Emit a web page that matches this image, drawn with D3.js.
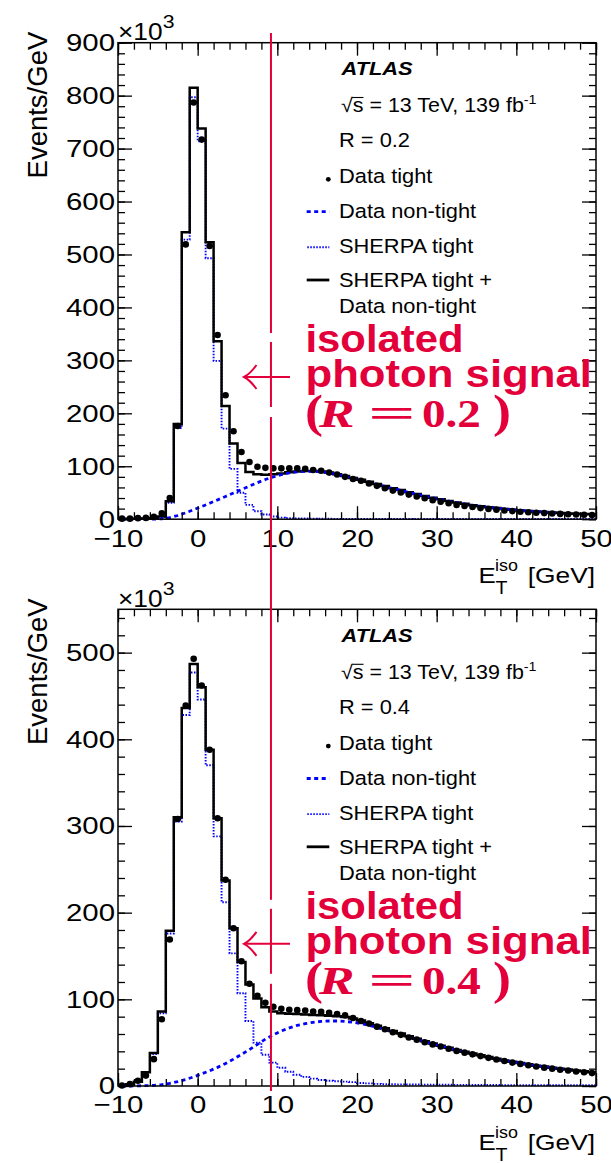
<!DOCTYPE html>
<html><head><meta charset="utf-8">
<script src="https://cdn.jsdelivr.net/npm/d3@7"></script>
<style>body{margin:0;background:#fff}svg{display:block}</style>
</head><body>
<svg id="c" width="611" height="1163"></svg>
<script>
// ---- data (values in units of 10^3 events/GeV) ----
const binCenters = [-9.5,-8.5,-7.5,-6.5,-5.5,-4.5,-3.5,-2.5,-1.5,-0.5,0.5,1.5,2.5,3.5,4.5,5.5,6.5,7.5,8.5,9.5,10.5,11.5,12.5,13.5,14.5,15.5,16.5,17.5,18.5,19.5,20.5,21.5,22.5,23.5,24.5,25.5,26.5,27.5,28.5,29.5,30.5,31.5,32.5,33.5,34.5,35.5,36.5,37.5,38.5,39.5,40.5,41.5,42.5,43.5,44.5,45.5,46.5,47.5,48.5,49.5];

const dataTightR02 = [1,1,2,2.5,4.5,11,40,176,519,787, 717,516,348,234,166,127,108,99,97,96, 96,96,96,95,93,91.5,88,84.5,80,76, 72.5,67.5,63,58.5,54,50.5,46.5,43,39.5,36, 33,30,27,25,23,21,19.5,18,16.5,15.3, 14,13,12.2,11.5,10.8,10,9.3,8.8,8.4,8];
const totalR02 = [0.5,0.8,1,1.5,2.5,5,34,180,542,815, 738,523,336,214,143,106,89,85,84,85, 86.5,88.5,90,91,91,90,88,85,81.5,78, 74.5,70.5,66.5,62.5,58.5,55,51,47.5,44,40.5, 37.5,34.5,31.5,29,26.5,24.5,22.5,21,19.5,18, 16.5,15.5,14.5,13.5,12.5,11.7,11,10.3,9.7,9.2];
const nonTightR02 = [0,0,0,0,0.2,0.8,3,7,12,18, 24,30,36.5,43,49.5,56,62.5,69,75,80, 84,87.5,89.5,90.5,90.5,89.5,87.5,84.5,81,77.5, 74,70,66,62,58,54.5,50.7,47.2,43.7,40.3, 37.2,34.2,31.3,28.8,26.3,24.3,22.3,20.8,19.3,17.8, 16.4,15.4,14.4,13.4,12.4,11.6,10.9,10.2,9.6,9.1];
const sherpaR02 = [0.3,0.5,0.8,1.2,2,4,31,172,528,797, 714,493,299,171,95,50,27,15,9,5, 3,2,1.5,1.2,1,0.9,0.8,0.7,0.6,0.5, 0.5,0.5,0.45,0.45,0.4,0.4,0.4,0.35,0.35,0.35, 0.3,0.3,0.3,0.3,0.3,0.3,0.3,0.3,0.3,0.3, 0.25,0.25,0.25,0.25,0.25,0.25,0.25,0.25,0.25,0.25];

const dataTightR04 = [0.5,2.3,6,12,31,77,169,308,439,493, 462,388,309,238,182,144,118,104,96,91.5, 89,88,87.5,87,86,85.5,84.5,83,81.5,78.5, 75,72,68.5,65.5,62,59,56,53.5,50.5,48, 45.5,43,40.5,38.5,36.5,34.5,32.5,30.5,28.8,27, 25.5,24,22.5,21.2,20,18.8,17.8,16.8,15.8,14.9];
const totalR04 = [0.5,2,5,16,38,86,179,310,436,487, 460,388,309,237,182,143,117,101,91,86, 84,83.5,83,82.5,82,81.5,81,80.5,79.5,78, 75.5,72.5,69.5,66.5,63.5,60.5,57.5,54.5,51.5,49, 46.5,44,41.5,39.5,37.5,35.5,33.5,31.5,29.5,28, 26.5,25,23.5,22.5,21,20,19,18,17,16];
const nonTightR04 = [0,0,0.2,0.4,0.8,1.5,3,5,7.5,10.5, 14,17.5,21.5,26,31,36.5,42,48,54,59, 63.5,67,70,72,73.5,74.5,75,75,74.5,73.5, 72,70,67.5,65,62.5,59.8,56.9,54,51.1,48.6, 46.1,43.6,41.2,39.2,37.2,35.2,33.2,31.2,29.3,27.8, 26.3,24.8,23.3,22.3,20.8,19.8,18.8,17.8,16.8,15.8];
const sherpaR04 = [0.5,2,5,16,37,84,176,305,428,477, 446,370,288,212,153,107,75,50,36,27, 21,16.5,13,10.5,8.5,7,6,5.5,5,4.5, 3.5,3,2.5,2.2,2,1.9,1.8,1.7,1.6,1.5, 1.4,1.4,1.3,1.3,1.2,1.2,1.1,1.1,1,1, 1,1,0.9,0.9,0.9,0.8,0.8,0.8,0.8,0.8];

const xDomain = [-10, 50];
const xMajorTicks = [-10, 0, 10, 20, 30, 40, 50];
const yMajorTicksR02 = [0,100,200,300,400,500,600,700,800,900];
const yMajorTicksR04 = [0,100,200,300,400,500];
const legendLabels = ["Data tight", "Data non-tight", "SHERPA tight", "SHERPA tight +", "Data non-tight"];
const coneLabels = ["0.2", "0.4"];
const markLine = 9.2; // GeV, vertical annotation line

// ---- drawing ----
const FONT = "'Liberation Sans', Arial, Helvetica, sans-serif";
const SERIF = "'Liberation Serif', 'Times New Roman', serif";
const RED = "#e3003a";
const BLUE = "#0000ff";
const svg = d3.select("#c");
svg.append("rect").attr("width", 611).attr("height", 1163).attr("fill", "#fff");

const X0 = 118, X1 = 596;
const x = d3.scaleLinear().domain(xDomain).range([X0, X1]);

function tg(parent, px, py, sx) {
  return parent.append("g").attr("transform", `translate(${px},${py}) scale(${sx},1)`);
}
function txt(parent, px, py, s, o = {}) {
  const g = tg(parent, px, py, o.sx || 1.15);
  return g.append("text").attr("font-family", o.family || FONT)
    .attr("font-size", o.size || 19.5)
    .attr("font-weight", o.weight || "normal")
    .attr("font-style", o.style || "normal")
    .attr("text-anchor", o.anchor || "start")
    .attr("fill", o.fill || "#000").text(s);
}

const panels = [
  {top: 42.7, bottom: 519.2, ymax: 900, yMajor: yMajorTicksR02, dy: 0, R: coneLabels[0],
   dataTight: dataTightR02, total: totalR02, nonTight: nonTightR02, sherpa: sherpaR02},
  {top: 609.3, bottom: 1086, ymax: 550, yMajor: yMajorTicksR04, dy: 566.8, R: coneLabels[1],
   dataTight: dataTightR04, total: totalR04, nonTight: nonTightR04, sherpa: sherpaR04}
];

function histVertices(vals) {
  const pts = [];
  binCenters.forEach((c, i) => { pts.push([c - 0.5, vals[i]]); pts.push([c + 0.5, vals[i]]); });
  return pts;
}

panels.forEach(p => {
  const y = d3.scaleLinear().domain([0, p.ymax]).range([p.bottom, p.top]);
  const g = svg.append("g");
  const step = d3.line().x(d => x(d[0])).y(d => y(d[1]));
  const smooth = d3.line().x((d, i) => x(binCenters[i])).y(d => y(d));

  // SHERPA tight (dotted histogram)
  g.append("path").attr("d", step(histVertices(p.sherpa))).attr("fill", "none")
    .attr("stroke", BLUE).attr("stroke-width", 1.9).attr("stroke-dasharray", "1.5,1.5");
  // SHERPA tight + Data non-tight (solid black histogram)
  g.append("path").attr("d", step(histVertices(p.total))).attr("fill", "none")
    .attr("stroke", "#000").attr("stroke-width", 2.5);
  // Data non-tight (dashed)
  g.append("path").attr("d", smooth(p.nonTight)).attr("fill", "none")
    .attr("stroke", BLUE).attr("stroke-width", 2.8).attr("stroke-dasharray", "4,3.5");
  // Data tight points
  g.selectAll("circle.pt").data(p.dataTight).join("circle").attr("class", "pt")
    .attr("cx", (d, i) => x(binCenters[i])).attr("cy", d => y(d)).attr("r", 3.3).attr("fill", "#000");

  // axes (ticks inside, ROOT style)
  const xMinor = d3.range(-10, 50.01, 2);
  const yMinor = d3.range(0, p.ymax + 0.01, 20);
  const ax = (axis, tr) => g.append("g").attr("transform", tr).call(axis)
    .call(s => s.select(".domain").remove());
  ax(d3.axisBottom(x).tickValues(xMinor).tickSizeInner(-7).tickSizeOuter(0).tickFormat(""), `translate(0,${p.bottom})`);
  const xb = ax(d3.axisBottom(x).tickValues(xMajorTicks).tickSizeInner(-13).tickSizeOuter(0).tickPadding(10)
      .tickFormat(d => d < 0 ? "\u2212" + Math.abs(d) : d), `translate(0,${p.bottom})`);
  ax(d3.axisTop(x).tickValues(xMinor).tickSizeInner(-7).tickSizeOuter(0).tickFormat(""), `translate(0,${p.top})`);
  ax(d3.axisTop(x).tickValues(xMajorTicks).tickSizeInner(-13).tickSizeOuter(0).tickFormat(""), `translate(0,${p.top})`);
  ax(d3.axisLeft(y).tickValues(yMinor).tickSizeInner(-7).tickSizeOuter(0).tickFormat(""), `translate(${X0},0)`);
  const yl = ax(d3.axisLeft(y).tickValues(p.yMajor).tickSizeInner(-14).tickSizeOuter(0).tickPadding(2.5), `translate(${X0},0)`);
  ax(d3.axisRight(y).tickValues(yMinor).tickSizeInner(-7).tickSizeOuter(0).tickFormat(""), `translate(${X1},0)`);
  ax(d3.axisRight(y).tickValues(p.yMajor).tickSizeInner(-14).tickSizeOuter(0).tickFormat(""), `translate(${X1},0)`);
  g.selectAll(".tick line").attr("stroke", "#000").attr("stroke-width", 1.3);
  [xb, yl].forEach(a => a.selectAll("text").attr("font-family", FONT).attr("font-size", 24.5)
      .attr("fill", "#000").attr("transform", "scale(1.2,1)"));

  // frame
  g.append("rect").attr("x", X0).attr("y", p.top).attr("width", X1 - X0).attr("height", p.bottom - p.top)
    .attr("fill", "none").attr("stroke", "#000").attr("stroke-width", 1.5);

  // x10^3
  const e = txt(g, X0, p.top - 2.8, "\u00d710", {size: 23.5, sx: 1.12});
  e.append("tspan").attr("font-size", 19).attr("dy", -11.5).text("3");

  // y title
  g.append("text").attr("transform", `translate(46.5,${p.top - 11}) rotate(-90)`)
    .attr("font-family", FONT).attr("font-size", 27.5).attr("text-anchor", "end").text("Events/GeV");

  // x title
  const xt = p.bottom + 64;
  txt(g, 478.5, xt, "E", {size: 22.5, sx: 1.15});
  txt(g, 495.5, xt + 11, "T", {size: 17.5, sx: 1.12});
  txt(g, 495, xt - 12, "iso", {size: 16, sx: 1.12});
  txt(g, 595, xt, "[GeV]", {size: 22.5, sx: 1.17, anchor: "end"});

  // legend
  const d = p.dy;
  txt(g, 341.5, 75 + d, "ATLAS", {size: 19, weight: "bold", style: "italic", sx: 1.15});
  const sg = tg(g, 341, 111.7 + d, 1.1);
  const st = sg.append("text").attr("font-family", FONT).attr("font-size", 19.5);
  st.append("tspan").text("\u221as = 13 TeV, 139 fb");
  st.append("tspan").attr("font-size", 13).attr("dy", -8).text("-1");
  const n = st.node();
  const a0 = n.getSubStringLength(0, 1), a1 = n.getSubStringLength(1, 1);
  sg.append("line").attr("x1", a0 - 0.5).attr("x2", a0 + a1).attr("y1", -14.2).attr("y2", -14.2)
    .attr("stroke", "#000").attr("stroke-width", 1.1);
  txt(g, 339, 146.7 + d, "R = " + p.R, {size: 19.5, sx: 1.12});
  const lys = [183.3, 218.3, 253.3, 286.7, 313.3];
  legendLabels.forEach((l, i) => txt(g, 339, lys[i] + d, l, {size: 19.5, sx: 1.12}));
  g.append("circle").attr("cx", 328.3).attr("cy", 179.3 + d).attr("r", 2.4).attr("fill", "#000");
  g.append("line").attr("x1", 306.7).attr("x2", 329.3).attr("y1", 211.7 + d).attr("y2", 211.7 + d)
    .attr("stroke", BLUE).attr("stroke-width", 2.8).attr("stroke-dasharray", "4,3.5");
  g.append("line").attr("x1", 307.3).attr("x2", 329.3).attr("y1", 247.3 + d).attr("y2", 247.3 + d)
    .attr("stroke", BLUE).attr("stroke-width", 1.9).attr("stroke-dasharray", "1.5,1.5");
  g.append("line").attr("x1", 306.7).attr("x2", 329.3).attr("y1", 280 + d).attr("y2", 280 + d)
    .attr("stroke", "#000").attr("stroke-width", 2.8);
});

// ---- red annotation ----
const ann = svg.append("g");
const lx = x(markLine);
ann.append("line").attr("x1", lx).attr("x2", lx).attr("y1", 33).attr("y2", 1091)
  .attr("stroke", RED).attr("stroke-width", 2);
panels.forEach(p => {
  const d = p.dy;
  [[333, 342], [407, 417]].forEach(([a, b]) =>
    ann.append("rect").attr("x", lx - 2).attr("y", a + d).attr("width", 4).attr("height", b - a).attr("fill", "#fff"));
  const ay = 377 + d;
  ann.append("path").attr("d", `M244,${ay} H290`).attr("stroke", RED).attr("stroke-width", 2).attr("fill", "none");
  ann.append("path").attr("d", `M256.5,${ay - 12} Q250,${ay - 3} 244,${ay} Q250,${ay + 3} 256.5,${ay + 12}`)
    .attr("stroke", RED).attr("stroke-width", 2).attr("fill", "none");
  txt(ann, 305.5, 351.7 + d, "isolated", {size: 38, weight: "bold", fill: RED, sx: 1.1});
  txt(ann, 305.5, 387.3 + d, "photon signal", {size: 38, weight: "bold", fill: RED, sx: 1.15});
  const by = 426.7 + d;
  const o = {size: 41, weight: "bold", fill: RED, family: SERIF, sx: 1.15};
  txt(ann, 305, by, "(", Object.assign({}, o, {size: 47}));
  txt(ann, 319, by, "R", Object.assign({}, o, {style: "italic", sx: 1.3}));
  txt(ann, 368, by, "=", Object.assign({}, o, {sx: 2.05}));
  txt(ann, 422, by, "0." + p.R.split(".")[1], o);
  txt(ann, 493, by, ")", Object.assign({}, o, {size: 47}));
});
</script>
</body></html>
